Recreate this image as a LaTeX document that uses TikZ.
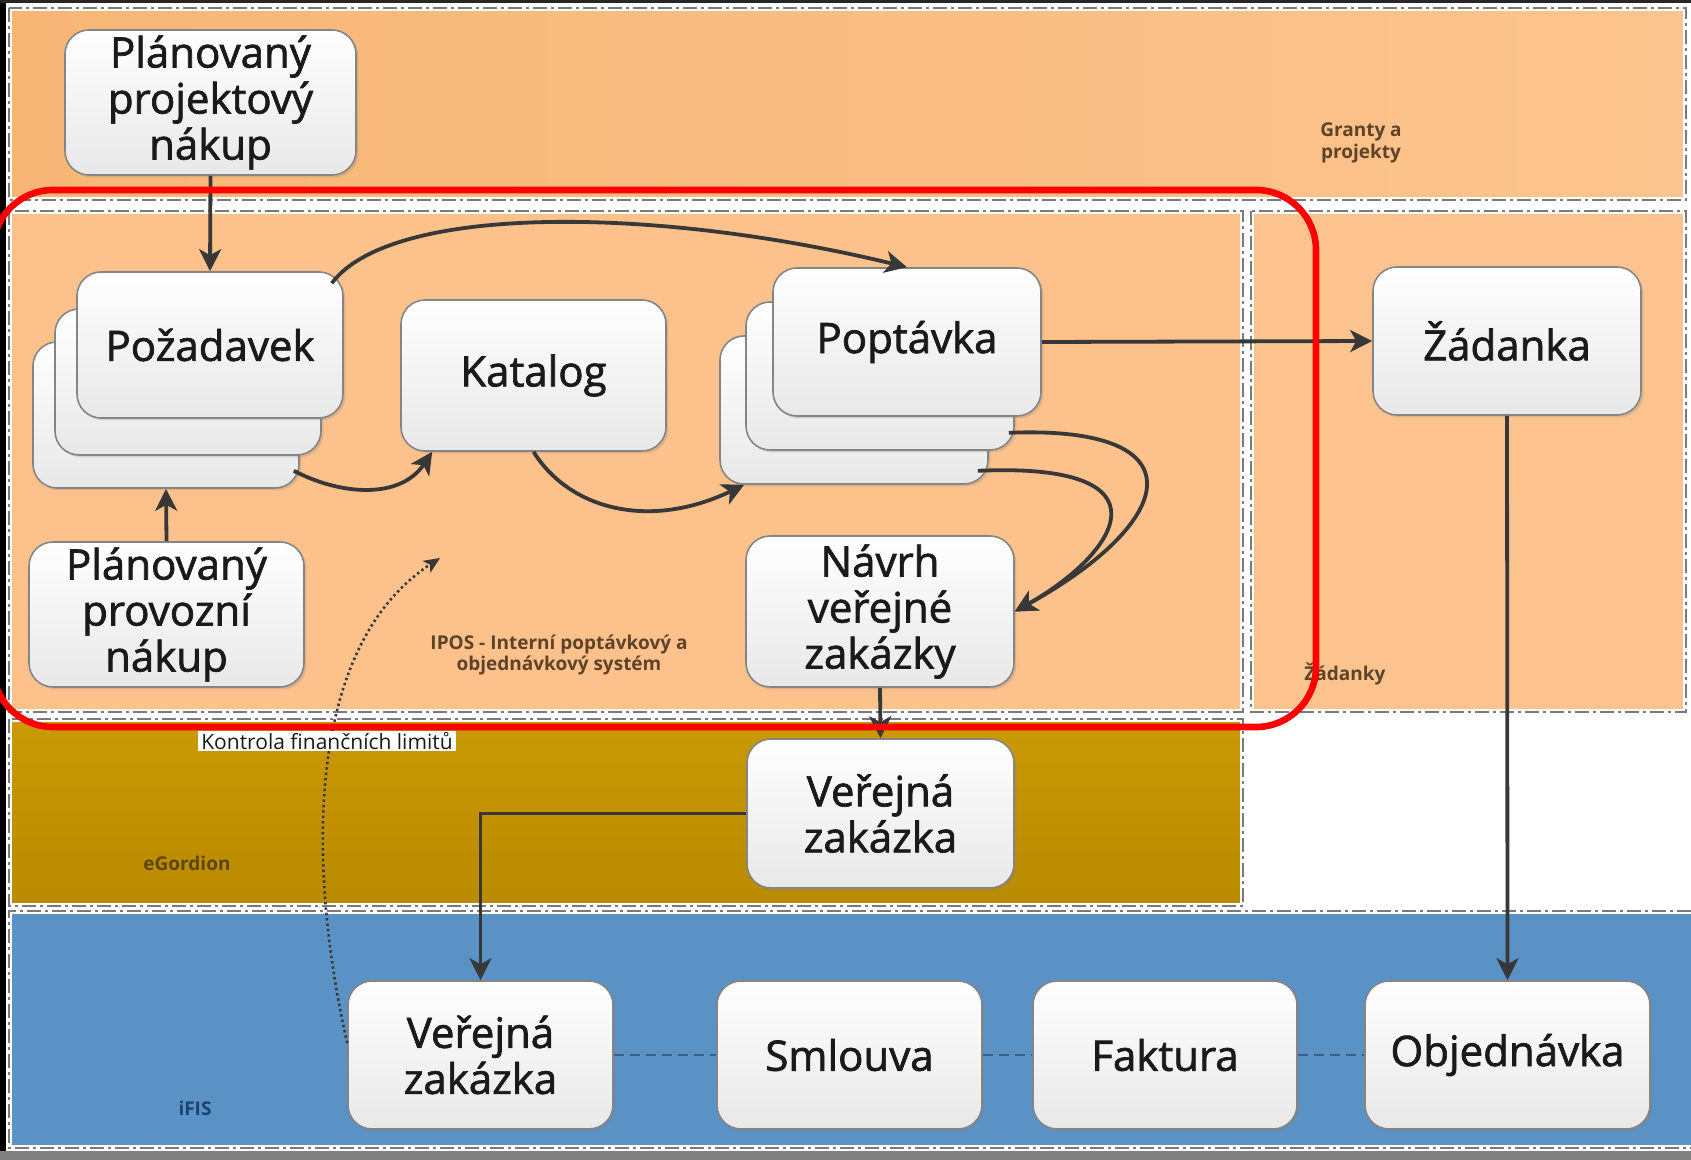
\documentclass[tikz,border=0pt]{standalone}
\usepackage{fontspec}
\setmainfont{Open Sans}
\usetikzlibrary{arrows.meta,calc,shadows}
\definecolor{bandtopL}{HTML}{F7B676}
\definecolor{bandtopR}{HTML}{FCC48E}
\definecolor{bandipos}{HTML}{FDC18B}
\definecolor{bandzad}{HTML}{FCC38E}
\definecolor{bandegT}{HTML}{C99905}
\definecolor{bandegB}{HTML}{BA8A00}
\definecolor{bandifis}{HTML}{5B92C5}
\definecolor{boxline}{HTML}{858585}
\definecolor{boxbot}{HTML}{E8E8E8}
\definecolor{txt}{HTML}{1A1A1A}
\definecolor{arr}{HTML}{383838}
\definecolor{bord}{HTML}{7A7A7A}
\definecolor{lblbrown}{HTML}{5E4328}
\definecolor{lblgold}{HTML}{5E4600}
\definecolor{lblblue}{HTML}{1E4470}
\definecolor{dashblue}{HTML}{3C5E80}
\definecolor{redline}{HTML}{FF0000}
\newfontfamily\nodefont[FakeBold=1.6]{Open Sans}
\begin{document}
\begin{tikzpicture}[x=0.5pt,y=-0.5pt,
  box/.style={draw=boxline, line width=0.8pt, rounded corners=12pt,
    top color=white, bottom color=boxbot, text=txt, align=center,
    font=\nodefont\fontsize{21}{23}\selectfont, inner sep=0pt,
    drop shadow={opacity=0.25, shadow xshift=1.2pt, shadow yshift=-1.2pt}},
  conn/.style={draw=arr, line width=1.9pt, -{Stealth[length=11pt,width=11pt,inset=3pt]}},
  bandwhite/.style={draw=white, line width=2.6pt},
  bandline/.style={draw=bord, line width=0.8pt, dash pattern=on 7pt off 2pt on 1.5pt off 2pt},
  smalllbl/.style={font=\fontsize{9.5}{10.8}\selectfont\bfseries, align=center, inner sep=0pt},
  linkdash/.style={draw=dashblue, line width=0.8pt, dash pattern=on 5pt off 3pt},
  dottedarr/.style={draw=arr, line width=1.3pt, dash pattern=on 1.2pt off 1.5pt, -{Stealth[length=8pt,width=7pt,inset=2pt]}}
]
\useasboundingbox (0,0) rectangle (1691,1160);
% background and frame strips
\fill[white] (0,0) rectangle (1691,1160);
\fill[black] (0,0) rectangle (6,1160);
\fill[black!85] (0,0) rectangle (1691,3);
\fill[gray] (0,1151) rectangle (1691,1160);
% bands
\shade[left color=bandtopL, right color=bandtopR] (9,8) rectangle (1686,200);
\fill[bandipos] (9,211) rectangle (1243,712);
\fill[bandzad] (1251,211) rectangle (1686,712);
\shade[top color=bandegT, bottom color=bandegB] (9,719) rectangle (1243,906);
\fill[bandifis] (9,911) rectangle (1691,1148);
\foreach \a/\b in {{(9,8)}/{(1686,200)},{(9,211)}/{(1243,712)},{(1251,211)}/{(1686,712)},{(9,719)}/{(1243,906)}}{
  \draw[bandwhite] \a rectangle \b;
  \draw[bandline] \a rectangle \b;
}
\draw[bandwhite] (1691,911) -- (9,911) -- (9,1148) -- (1691,1148);
\draw[bandline] (1691,911) -- (9,911) -- (9,1148) -- (1691,1148);
% band labels
\node[smalllbl, text=lblbrown] (lgr) at (1361,143) {Granty a\\projekty};
\node[smalllbl, text=lblbrown] (lipos) at (559,655) {IPOS - Interní poptávkový a\\objednávkový systém};
\node[smalllbl, text=lblbrown] (lzad) at (1345,674) {Žádanky};
\node[smalllbl, text=lblgold] (leg) at (187,863) {eGordion};
\node[smalllbl, text=lblblue] (lifis) at (195,1108) {iFIS};
% nodes
\node[box, minimum width=145.5pt, minimum height=72.5pt] (ppn) at (210.5,102.5) {Plánovaný\\projektový\\nákup};
\node[box, minimum width=133pt, minimum height=73pt] (pozb) at (166,415) {};
\node[box, minimum width=133pt, minimum height=73pt] (pozm) at (188,382) {};
\node[box, minimum width=133pt, minimum height=73pt] (pozf) at (210,345) {Požadavek};
\node[box, minimum width=132.5pt, minimum height=75.5pt] (kat) at (533.5,375.5) {Katalog};
\node[box, minimum width=134pt, minimum height=74pt] (popb) at (854,410) {};
\node[box, minimum width=134pt, minimum height=74pt] (popm) at (880,376) {};
\node[box, minimum width=134pt, minimum height=74pt] (popf) at (907,342) {Poptávka};
\node[box, minimum width=134pt, minimum height=74pt] (zad) at (1507,341) {Žádanka};
\node[box, minimum width=137.5pt, minimum height=72.5pt] (ppr) at (166.5,614.5) {Plánovaný\\provozní\\nákup};
\node[box, minimum width=134pt, minimum height=75.5pt] (nvz) at (880,611.5) {Návrh\\veřejné\\zakázky};
\node[box, minimum width=133.5pt, minimum height=74.5pt] (vze) at (880.5,813.5) {Veřejná\\zakázka};
\node[box, minimum width=132.5pt, minimum height=74pt] (vzi) at (480.5,1055) {Veřejná\\zakázka};
\node[box, minimum width=132.5pt, minimum height=74pt] (sml) at (849.5,1055) {Smlouva};
\node[box, minimum width=132pt, minimum height=74pt] (fak) at (1165,1055) {Faktura};
\node[box, minimum width=142.5pt, minimum height=74pt] (obj) at (1507.5,1055) {Objednávka};
% connectors
\draw[conn] (ppn.south) -- (pozf.north);
\draw[conn] (ppr.north) -- (pozb.south);
\draw[conn] ($(pozb.south east)+(-6,-18)$) .. controls (340,495) and (400,500) .. ($(kat.south west)+(32,0)$);
\draw[conn] (kat.south) .. controls (570,510) and (650,530) .. ($(popb.south west)+(25,0)$);
\draw[conn] ($(pozf.north east)+(-12,12)$) .. controls (390,205) and (650,205) .. (popf.north);
\draw[conn] (popf.east) -- (zad.west);
\draw[conn] ($(popm.south east)+(-6,-18)$) .. controls (1200,425) and (1180,520) .. (nvz.east);
\draw[conn] ($(popb.south east)+(-11,-14)$) .. controls (1175,462) and (1120,552) .. (nvz.east);
\draw[conn] (nvz.south) -- (vze.north);
\draw[conn] (vze.west) -| (vzi.north);
\draw[conn] (zad.south) -- (obj.north);
\draw[linkdash] (vzi.east) -- (sml.west);
\draw[linkdash] (sml.east) -- (fak.west);
\draw[linkdash] (fak.east) -- (obj.west);
% dotted control arrow
\coordinate (kfl) at (440,558);
\draw[dottedarr] ($(vzi.west)+(0,-12)$) .. controls (310,880) and (300,650) .. (kfl);
\node[fill=white, text=txt, font=\fontsize{10.5}{11}\selectfont, inner xsep=1.5pt, inner ysep=0.8pt] (kon) at (327,741) {Kontrola finančních limitů};
% red highlight
\draw[redline, line width=3.3pt, rounded corners=30pt] (-7,190) rectangle (1316,727);
\end{tikzpicture}
\end{document}
